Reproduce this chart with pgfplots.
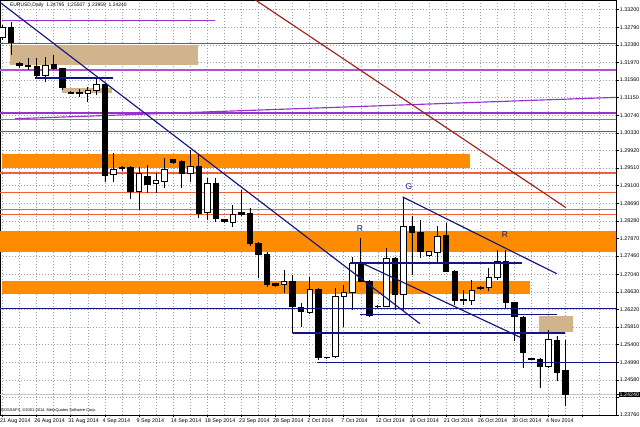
\documentclass[border=0pt]{standalone}
\usepackage{pgfplots}
\pgfplotsset{compat=1.18}
\usepackage{pgfplotstable}
\usepgfplotslibrary{statistics}
\usepackage{fontspec}
\setmainfont{Liberation Sans}

\definecolor{orangeband}{RGB}{255,140,0}
\definecolor{tanbox}{RGB}{210,180,140}
\definecolor{orchid}{RGB}{153,50,204}
\definecolor{orchidlight}{RGB}{180,80,210}
\definecolor{redline}{RGB}{240,95,55}
\definecolor{navyline}{RGB}{20,20,130}
\definecolor{brownline}{RGB}{165,30,30}
\definecolor{gridc}{RGB}{150,160,175}

% EURUSD daily candles: bar index, open, high, low, close
\pgfplotstableread{
i o h l c
0 1.32547 1.32850 1.32500 1.32780
1 1.32780 1.32920 1.32151 1.32431
2 1.31941 1.31988 1.31848 1.31895
3 1.31895 1.32081 1.31802 1.31883
4 1.31872 1.32081 1.31639 1.31662
5 1.31662 1.32104 1.31522 1.31895
6 1.31918 1.32151 1.31802 1.31825
7 1.31825 1.31848 1.31336 1.31382
8 1.31273 1.31301 1.31243 1.31259
9 1.31266 1.31359 1.31173 1.31254
10 1.31243 1.31406 1.31056 1.31313
11 1.31313 1.31592 1.31219 1.31452
12 1.31452 1.31499 1.29193 1.29333
13 1.29356 1.29869 1.29193 1.29473
14 1.29519 1.29566 1.29449 1.29496
15 1.29519 1.29566 1.28797 1.28960
16 1.28960 1.29543 1.28541 1.29380
17 1.29310 1.29589 1.28937 1.29123
18 1.29147 1.29403 1.28937 1.29217
19 1.29193 1.29752 1.29053 1.29473
20 1.29706 1.29729 1.29624 1.29636
21 1.29666 1.29706 1.29053 1.29380
22 1.29380 1.29938 1.29193 1.29550
23 1.29550 1.29822 1.28355 1.28448
24 1.28471 1.29286 1.28308 1.29147
25 1.29147 1.29286 1.28262 1.28331
26 1.28308 1.28331 1.28250 1.28262
27 1.28245 1.28658 1.28145 1.28425
28 1.28471 1.29007 1.28401 1.28425
29 1.28448 1.28588 1.27703 1.27749
30 1.27749 1.27796 1.26957 1.27493
31 1.27493 1.27563 1.26748 1.26794
32 1.26818 1.26829 1.26759 1.26771
33 1.26794 1.27144 1.26608 1.26871
34 1.26871 1.27027 1.25676 1.26282
35 1.26259 1.26375 1.25816 1.26166
36 1.26142 1.26981 1.26131 1.26678
37 1.26678 1.26724 1.25048 1.25094
38 1.25106 1.25117 1.25083 1.25099
39 1.25117 1.26724 1.25094 1.26522
40 1.26515 1.26794 1.25816 1.26615
41 1.26615 1.27446 1.26212 1.27283
42 1.27283 1.27889 1.26853 1.26871
43 1.26871 1.26911 1.26049 1.26072
44 1.26289 1.26329 1.26259 1.26294
45 1.26289 1.27656 1.26270 1.27400
46 1.27400 1.27446 1.26212 1.26561
47 1.26561 1.28821 1.26212 1.28152
48 1.28152 1.28385 1.27027 1.28012
49 1.28012 1.28308 1.27423 1.27570
50 1.27470 1.27586 1.27446 1.27563
51 1.27540 1.28152 1.27307 1.27919
52 1.27936 1.28238 1.27081 1.27104
53 1.27104 1.27144 1.26329 1.26429
54 1.26429 1.26678 1.26329 1.26445
55 1.26429 1.26911 1.26329 1.26655
56 1.26717 1.26771 1.26662 1.26724
57 1.26724 1.27190 1.26638 1.26957
58 1.26957 1.27609 1.26911 1.27337
59 1.27337 1.27609 1.26259 1.26375
60 1.26375 1.26382 1.25474 1.26049
61 1.26033 1.26056 1.24861 1.25218
62 1.25064 1.25094 1.25048 1.25071
63 1.25064 1.25094 1.24395 1.24892
64 1.24892 1.25746 1.24861 1.25513
65 1.25497 1.25590 1.24542 1.24752
66 1.24795 1.25507 1.23959 1.24240
}\candles

\pgfplotsset{
  candle/.style={draw=black, line width=0.7bp, solid,
    boxplot/box extend=0.64, boxplot/whisker extend=0,
    boxplot/draw direction=y},
  hline/.style={line width=1.15bp},
}

\begin{document}
\begin{tikzpicture}
\useasboundingbox (0,0) rectangle (640bp,427bp);
\begin{axis}[
  at={(0,12bp)}, anchor=south west,
  width=616bp, height=415bp, scale only axis,
  xmin=-0.293, xmax=71.92, ymin=1.2376, ymax=1.33425,
  scaled y ticks=false,
  axis line style={black, line width=0.6bp},
  xtick pos=bottom, ytick pos=right, yticklabel pos=right,
  xtick={0,4,...,68}, minor xtick={2,6,...,70},
  xticklabels={21 Aug 2014,26 Aug 2014,31 Aug 2014,4 Sep 2014,9 Sep 2014,14 Sep 2014,18 Sep 2014,23 Sep 2014,28 Sep 2014,2 Oct 2014,7 Oct 2014,12 Oct 2014,16 Oct 2014,21 Oct 2014,26 Oct 2014,30 Oct 2014,4 Nov 2014,{}},
  ytick={1.2376,1.2417,1.2458,1.2499,1.2540,1.2581,1.2622,1.2663,1.2704,1.2746,1.2787,1.2828,1.2869,1.2910,1.2951,1.2992,1.3033,1.3074,1.3115,1.3156,1.3197,1.3238,1.3279,1.3320},
  yticklabels={1.23760,{},1.24580,1.24990,1.25400,1.25810,1.26220,1.26630,1.27040,1.27460,1.27870,1.28280,1.28690,1.29100,1.29510,1.29920,1.30330,1.30740,1.31150,1.31560,1.31970,1.32380,1.32790,1.33200},
  tick align=outside, major tick length=2.5bp, minor tick length=0pt,
  tick style={black, line width=0.5bp},
  grid=both,
  major grid style={gridc, line width=0.5bp, dash pattern=on 1bp off 2bp},
  minor grid style={gridc, line width=0.5bp, dash pattern=on 1bp off 2bp},
  ticklabel style={font=\fontsize{5.4}{6}\selectfont, text=black},
  xticklabel style={anchor=north west, xshift=-2.5bp, inner xsep=0pt, inner ysep=1.5bp},
  yticklabel style={anchor=west, inner xsep=1.2bp},
  extra y ticks={1.2424}, extra y tick labels={1.24240},
  extra y tick style={grid=none, yticklabel style={fill=black, text=white, inner ysep=0.6bp, inner xsep=1bp}},
  clip=true,
]
% orange zones
\addplot[fill=orangeband, draw=none] coordinates {(-0.06,1.29845) (54.81,1.29845) (54.81,1.29512) (-0.06,1.29512)};
\addplot[fill=orangeband, draw=none] coordinates {(-1,1.28036) (73,1.28036) (73,1.27547) (-1,1.27547)};
\addplot[fill=orangeband, draw=none] coordinates {(-0.06,1.26888) (61.84,1.26888) (61.84,1.26585) (-0.06,1.26585)};
% tan zones
\addplot[fill=tanbox, draw=none] coordinates {(0.88,1.32384) (22.92,1.32384) (22.92,1.31918) (0.88,1.31918)};
\addplot[fill=tanbox, draw=none] coordinates {(6.98,1.31382) (12.84,1.31382) (12.84,1.31266) (6.98,1.31266)};
\addplot[fill=tanbox, draw=none] coordinates {(62.90,1.26072) (66.88,1.26072) (66.88,1.25700) (62.90,1.25700)};
% purple levels
\addplot[orchid, hline] coordinates {(-0.06,1.32943) (24.91,1.32943)};
\addplot[orchid, hline] coordinates {(-1,1.32410) (73,1.32410)};
\addplot[orchidlight, line width=2.2bp] coordinates {(-1,1.31802) (73,1.31802)};
\addplot[orchid, hline] coordinates {(1.47,1.30660) (71.92,1.31157)};
\addplot[orchid, hline] coordinates {(-1,1.30793) (73,1.30793)};
\addplot[orchidlight, hline] coordinates {(-1,1.30649) (73,1.30649)};
\addplot[orchid, hline] coordinates {(-1,1.30365) (73,1.30365)};
% orange-red levels
\addplot[redline, line width=1.1bp] coordinates {(-1,1.29396) (73,1.29396)};
\addplot[redline, line width=1.1bp] coordinates {(-1,1.28944) (73,1.28944)};
\addplot[redline, line width=1.1bp] coordinates {(-1,1.28541) (73,1.28541)};
\addplot[redline, line width=1.1bp] coordinates {(-1,1.28425) (73,1.28425)};
% current price line
\addplot[gray!45, line width=0.8bp] coordinates {(-1,1.2424) (73,1.2424)};
% candles
\pgfplotsinvokeforeach{0,...,66}{%
  \pgfplotstablegetelem{#1}{o}\of\candles \let\cO\pgfplotsretval
  \pgfplotstablegetelem{#1}{h}\of\candles \let\cH\pgfplotsretval
  \pgfplotstablegetelem{#1}{l}\of\candles \let\cL\pgfplotsretval
  \pgfplotstablegetelem{#1}{c}\of\candles \let\cC\pgfplotsretval
  \ifdim\cC pt<\cO pt
    \edef\candleplot{\noexpand\addplot[candle, fill=black, boxplot prepared={draw position=#1, lower whisker=\cL, lower quartile=\cC, median=\cC, upper quartile=\cO, upper whisker=\cH}] coordinates {};}%
  \else
    \edef\candleplot{\noexpand\addplot[candle, fill=white, boxplot prepared={draw position=#1, lower whisker=\cL, lower quartile=\cO, median=\cO, upper quartile=\cC, upper whisker=\cH}] coordinates {};}%
  \fi
  \candleplot
}
% trend lines
\addplot[brownline, hline] coordinates {(29.60,1.33432) (66.06,1.28588)};
\addplot[navyline, hline] coordinates {(-0.29,1.33369) (48.94,1.25886)};
\addplot[navyline, hline] coordinates {(3.81,1.31608) (12.95,1.31608)};
\addplot[navyline, hline] coordinates {(46.92,1.28837) (64.97,1.27051)};
\addplot[navyline, hline] coordinates {(42.11,1.27300) (60.87,1.25553)};
\addplot[navyline, hline] coordinates {(40.74,1.27300) (60.90,1.27300)};
\addplot[navyline, hline] coordinates {(-1,1.26250) (73,1.26250)};
\addplot[navyline, hline] coordinates {(41.91,1.26096) (64.97,1.26096)};
\addplot[navyline, hline] coordinates {(34.02,1.25669) (65.94,1.25669)};
\addplot[navyline, hline] coordinates {(36.84,1.24985) (73,1.24985)};
% labels
\node[text=navyline, font=\fontsize{8.5}{9}\selectfont] at (axis cs:41.9,1.28099) {R};
\node[text=navyline, font=\fontsize{8.5}{9}\selectfont] at (axis cs:47.65,1.29077) {G};
\node[text=navyline, font=\fontsize{8.5}{9}\selectfont] at (axis cs:58.9,1.27959) {R};
\node[anchor=north west, inner sep=0pt, font=\fontsize{5}{6}\selectfont] at (axis description cs:0.016,0.994) {EURUSD,Daily\ \ 1.24795\ \ 1.25507\ \ 1.23959\ \ 1.24240};
\node[anchor=south west, inner sep=0pt, font=\fontsize{4}{5}\selectfont] at (axis description cs:0.002,0.007) {BOSSAFX, \textcopyright2001-2014, MetaQuotes Software Corp.};
\end{axis}
\end{tikzpicture}
\end{document}
